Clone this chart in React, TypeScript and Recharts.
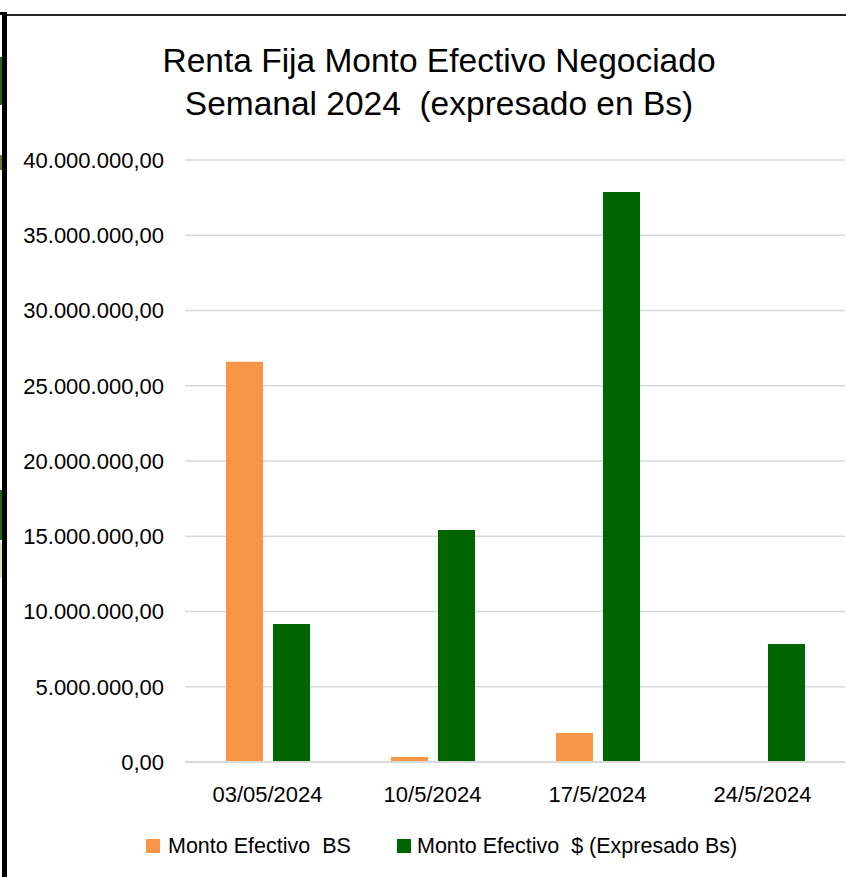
import React from "react";
import { BarChart, Bar, XAxis, YAxis, CartesianGrid } from "recharts";

const categories = ["03/05/2024", "10/5/2024", "17/5/2024", "24/5/2024"];
const montoBs = [26600000, 330000, 1930000, 0];
const montoUsdBs = [9170000, 15420000, 37870000, 7840000];
const yTicks = [0, 5000000, 10000000, 15000000, 20000000, 25000000, 30000000, 35000000, 40000000];
const seriesNames = ["Monto Efectivo  BS", "Monto Efectivo  $ (Expresado Bs)"];
const titleLines = ["Renta Fija Monto Efectivo Negociado", "Semanal 2024  (expresado en Bs)"];

const data = categories.map((c, i) => ({ cat: c, a: montoBs[i], b: montoUsdBs[i] }));

const FONT = "'Liberation Sans', Arial, sans-serif";

const fmt = (v: number) => {
  const s = Math.round(v).toString().replace(/\B(?=(\d{3})+(?!\d))/g, ".");
  return s + ",00";
};

const ORANGE = "#f79646";
const GREEN = "#006400";
const colors = [ORANGE, GREEN];

export default function App() {
  return (
    <div style={{ position: "absolute", left: 0, top: 0, width: 846, height: 877, background: "#fff", overflow: "hidden", fontFamily: FONT }}>
      <div style={{ position: "absolute", left: 0, top: 57, width: 2, height: 48, background: "#1a6b1a" }} />
      <div style={{ position: "absolute", left: 0, top: 155, width: 2, height: 15, background: "#6b7a3a" }} />
      <div style={{ position: "absolute", left: 0, top: 490, width: 2, height: 50, background: "#1a6b1a" }} />
      <div style={{ position: "absolute", left: 0, top: 543, width: 2, height: 35, background: "#d8e4bc" }} />
      <div style={{ position: "absolute", left: 2, top: 12, width: 5, height: 865, background: "#000" }} />
      <div style={{ position: "absolute", left: 0, top: 12, width: 7, height: 3, background: "#000" }} />
      <div style={{ position: "absolute", left: 7, top: 14, width: 839, height: 2, background: "#262626" }} />
      <div style={{ position: "absolute", left: 0, top: 39, width: 878, textAlign: "center", fontSize: 33.5, lineHeight: "43px", color: "#000" }}>
        {titleLines.map((t, i) => (
          <div key={i} style={{ whiteSpace: "pre" }}>{t}</div>
        ))}
      </div>
      <div style={{ position: "absolute", left: 0, top: 0 }}>
        <BarChart
          width={846}
          height={877}
          data={data}
          margin={{ top: 160, right: 1, bottom: 85, left: 0 }}
          barSize={37}
          barGap={10}
        >
          <CartesianGrid vertical={false} stroke="#d9d9d9" strokeWidth={1.5} />
          <XAxis
            dataKey="cat"
            tickLine={false}
            axisLine={{ stroke: "#d9d9d9", strokeWidth: 2 }}
            tick={{ fill: "#000", fontSize: 22, fontFamily: FONT }}
            tickMargin={18}
          />
          <YAxis
            width={185}
            domain={[0, 40000000]}
            ticks={yTicks}
            tickFormatter={fmt}
            tickLine={false}
            axisLine={false}
            tick={{ fill: "#000", fontSize: 22, fontFamily: FONT }}
            tickMargin={15}
          />
          <Bar dataKey="a" name={seriesNames[0]} fill={ORANGE} isAnimationActive={false} />
          <Bar dataKey="b" name={seriesNames[1]} fill={GREEN} isAnimationActive={false} />
        </BarChart>
      </div>
      {seriesNames.map((n, i) => (
        <div
          key={n}
          style={{ position: "absolute", left: i === 0 ? 146 : 397, top: 833, height: 26, display: "flex", alignItems: "center", fontSize: 21.5, color: "#000", whiteSpace: "pre" }}
        >
          <span style={{ display: "inline-block", width: 14, height: 14, background: colors[i], marginRight: i === 0 ? 8 : 6 }} />
          <span>{n}</span>
        </div>
      ))}
    </div>
  );
}
